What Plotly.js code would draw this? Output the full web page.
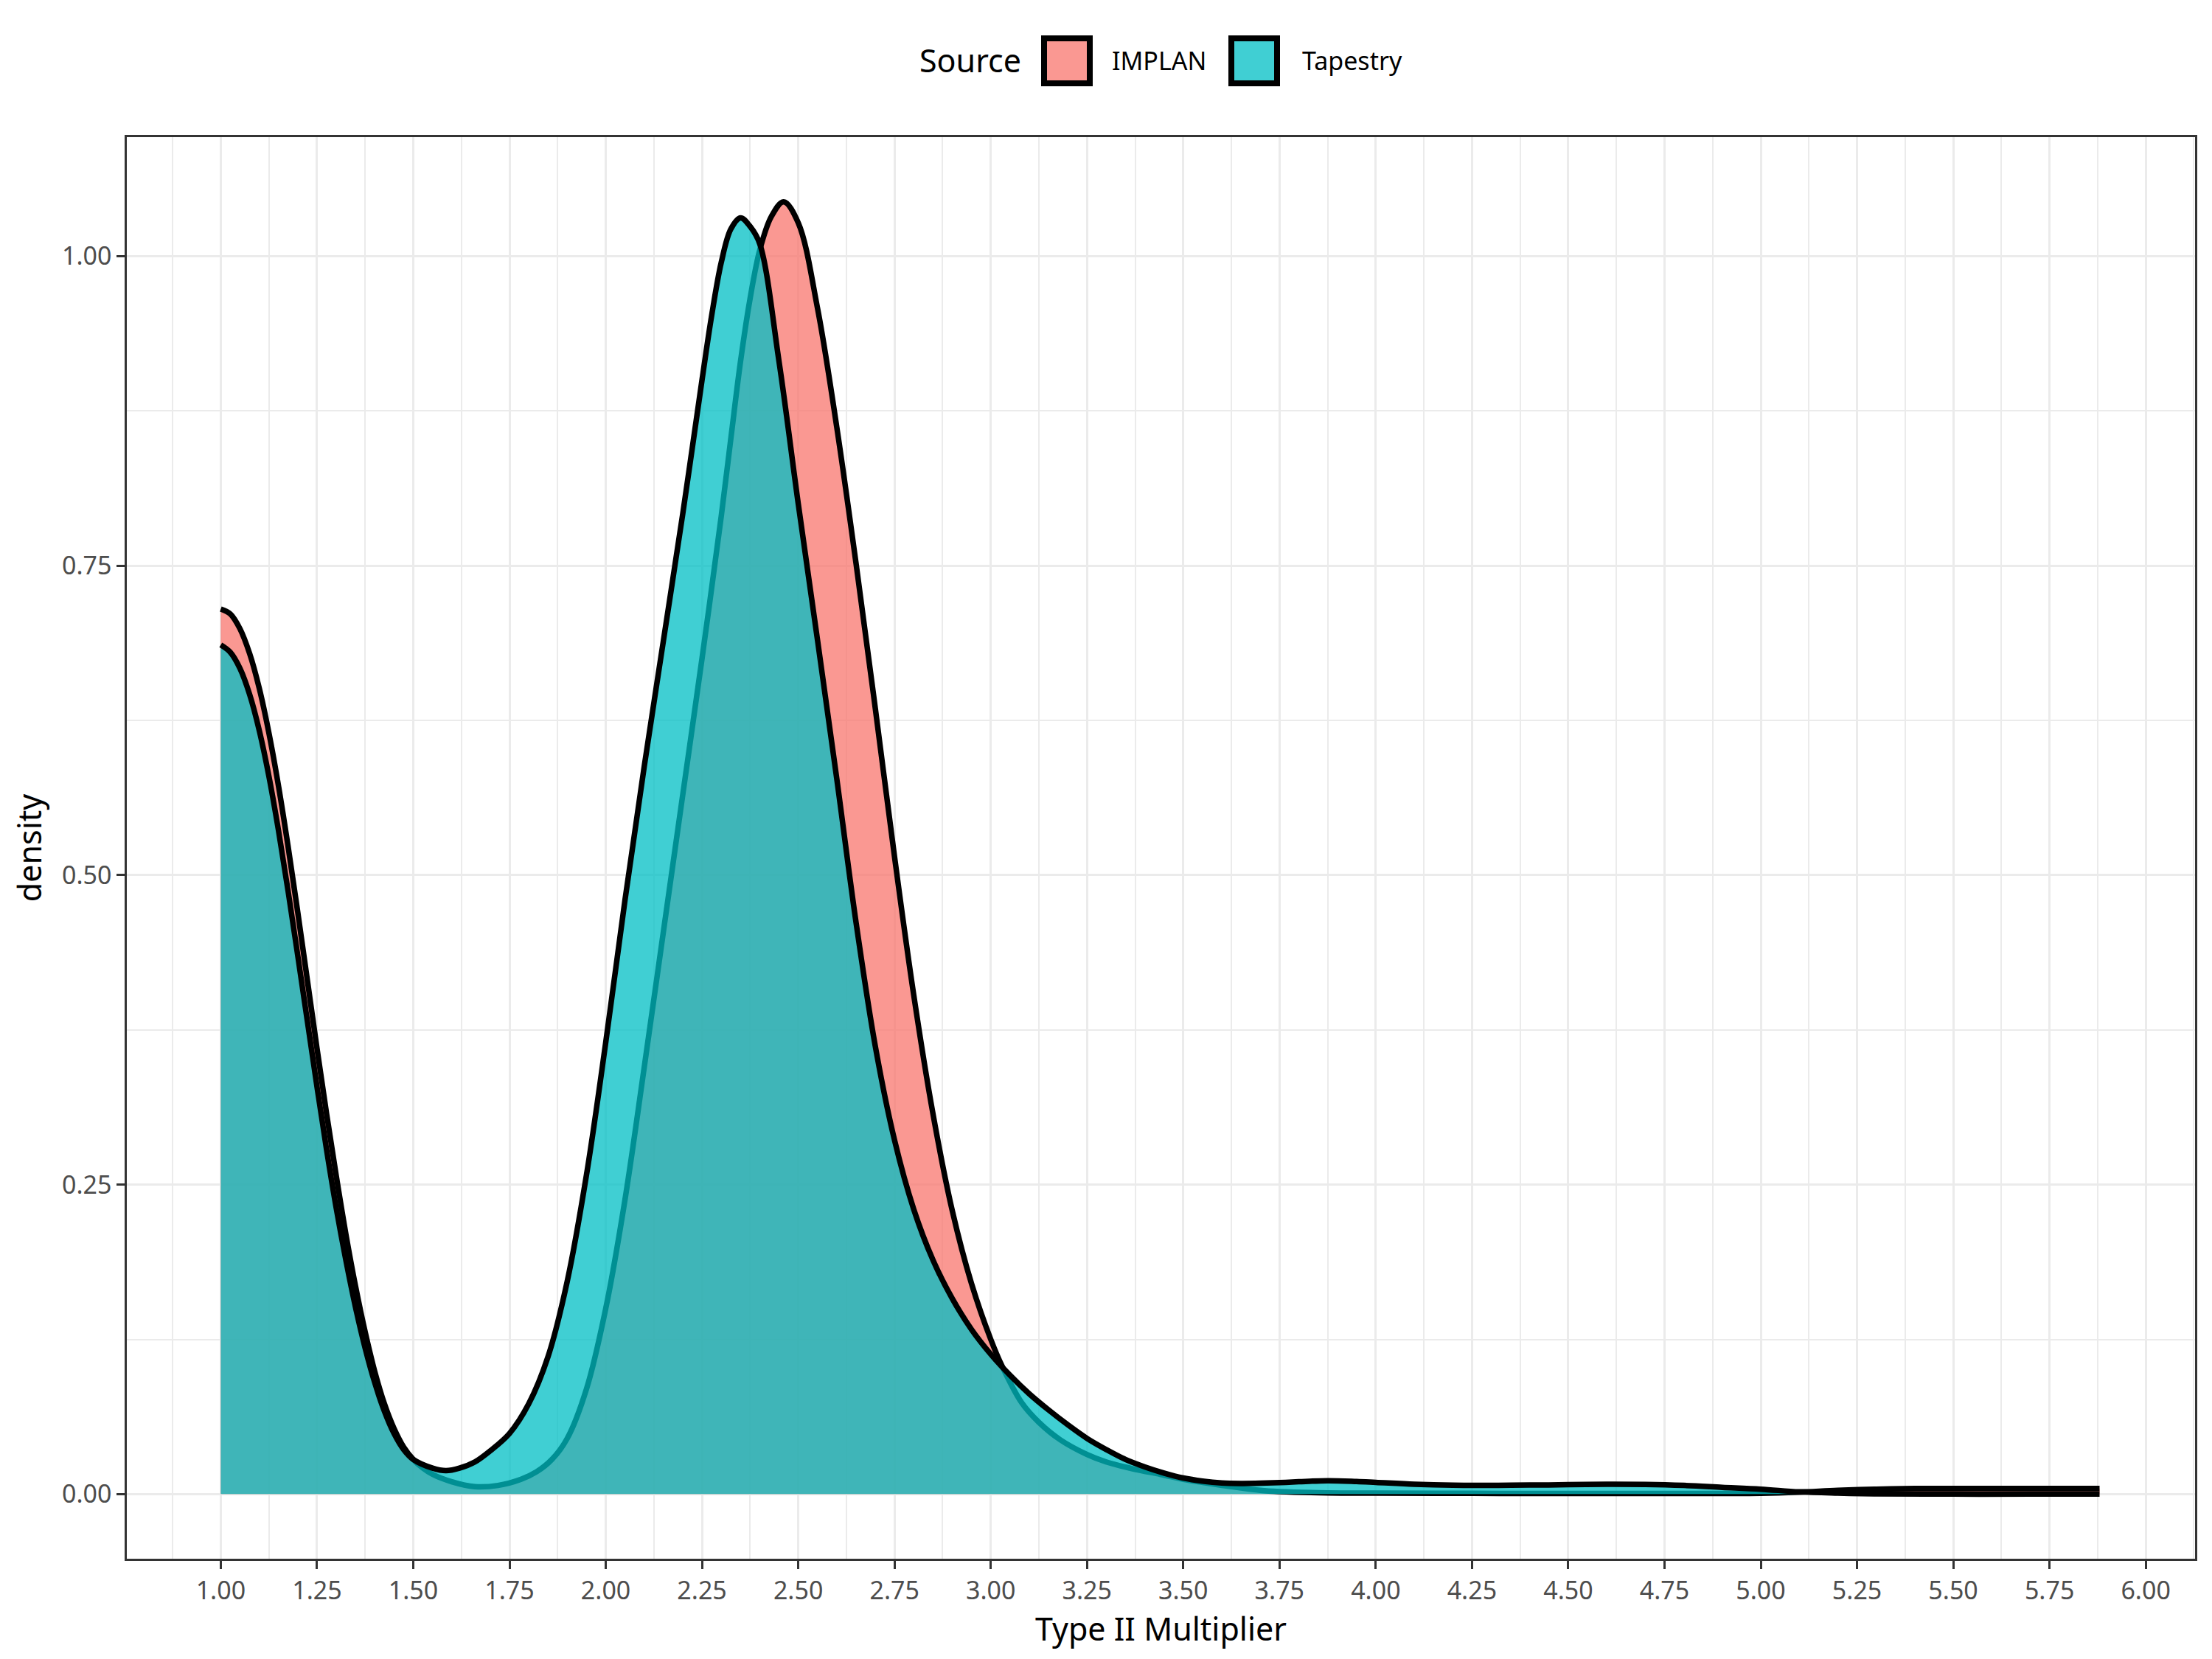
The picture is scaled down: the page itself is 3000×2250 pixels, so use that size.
<!DOCTYPE html>
<html>
<head>
<meta charset="utf-8">
<script src="https://cdn.plot.ly/plotly-3.0.1.min.js"></script>
<style>
  html, body { margin: 0; padding: 0; background: #ffffff; }
  #chart { width: 3000px; height: 2250px; }
</style>
</head>
<body>
<div id="chart"></div>
<script>
// density curves
const sources = ['IMPLAN', 'Tapestry'];
const fillColors = ['rgba(248,118,109,0.75)', 'rgba(0,191,196,0.75)'];

const implanX = [1.00, 1.025, 1.05, 1.075, 1.10, 1.125, 1.15, 1.175, 1.20, 1.225, 1.25, 1.275, 1.30, 1.325, 1.35, 1.375, 1.40, 1.425, 1.45, 1.475, 1.50,
    1.525, 1.55, 1.60, 1.66, 1.72, 1.78, 1.82, 1.86, 1.90, 1.95,
    2.00, 2.05, 2.10, 2.15, 2.20, 2.25, 2.30,
    2.325, 2.35, 2.375, 2.40, 2.43, 2.462,
    2.50, 2.55, 2.60, 2.65, 2.70, 2.75, 2.80, 2.85, 2.90, 2.95, 3.00,
    3.03, 3.08, 3.125, 3.18, 3.25, 3.30, 3.375, 3.44, 3.50, 3.56, 3.625, 3.70, 3.75, 3.875,
    4.00, 4.25, 4.50, 4.75, 5.00, 5.10, 5.20, 5.30, 5.40, 5.50, 5.75, 5.88];
const implanY = [0.715, 0.711, 0.699, 0.679, 0.651, 0.615, 0.572, 0.523, 0.470, 0.415, 0.360, 0.307, 0.257, 0.210, 0.168, 0.131, 0.099, 0.073, 0.053, 0.038, 0.028,
    0.021, 0.016, 0.010, 0.006, 0.007, 0.012, 0.018, 0.028, 0.045, 0.085,
    0.150, 0.238, 0.345, 0.455, 0.565, 0.675, 0.790,
    0.853, 0.915, 0.966, 1.005, 1.032, 1.044,
    1.027, 0.958, 0.862, 0.752, 0.635, 0.515, 0.403, 0.307, 0.229, 0.170, 0.125,
    0.103, 0.074, 0.058, 0.044, 0.032, 0.026, 0.020, 0.016, 0.012, 0.009, 0.006, 0.003, 0.002, 0.001,
    0.0008, 0.0006, 0.0005, 0.0005, 0.0006, 0.0015, 0.003, 0.004, 0.0045, 0.0045, 0.0045, 0.0045];

const tapestryX = [1.00, 1.025, 1.05, 1.075, 1.10, 1.125, 1.15, 1.175, 1.20, 1.225, 1.25, 1.275, 1.30, 1.325, 1.35, 1.375, 1.40, 1.425, 1.45, 1.475, 1.50,
    1.55, 1.585, 1.62, 1.66, 1.70, 1.75, 1.80, 1.85, 1.90, 1.95,
    2.00, 2.05, 2.10, 2.15, 2.20, 2.25, 2.275, 2.30,
    2.325, 2.35, 2.375, 2.40,
    2.45, 2.50, 2.55, 2.60, 2.65, 2.70, 2.75, 2.80, 2.85, 2.90, 2.95, 3.00, 3.05, 3.10,
    3.15, 3.20, 3.25, 3.30, 3.35, 3.40, 3.45, 3.50, 3.55, 3.60, 3.65, 3.70, 3.75, 3.80,
    3.875, 3.95, 4.00,
    4.10, 4.20, 4.30, 4.40, 4.50, 4.60, 4.70, 4.80, 4.90, 5.00, 5.10, 5.20, 5.30,
    5.50, 5.70, 5.88];
const tapestryY = [0.686, 0.680, 0.667, 0.646, 0.617, 0.580, 0.536, 0.487, 0.435, 0.382, 0.329, 0.278, 0.231, 0.189, 0.151, 0.118, 0.090, 0.067, 0.049, 0.036, 0.028,
    0.021, 0.019, 0.021, 0.026, 0.035, 0.049, 0.073, 0.111, 0.172, 0.258,
    0.365, 0.480, 0.588, 0.690, 0.792, 0.900, 0.952, 0.995,
    1.022, 1.031, 1.024, 1.010,
    0.915, 0.800, 0.690, 0.578, 0.462, 0.362, 0.286, 0.230, 0.189, 0.158, 0.133, 0.113, 0.096, 0.081,
    0.068, 0.056, 0.045, 0.036, 0.028, 0.022, 0.017, 0.013, 0.0105, 0.009, 0.0086, 0.0088, 0.0093, 0.010,
    0.0108, 0.0102, 0.0095,
    0.008, 0.0072, 0.0071, 0.0073, 0.0076, 0.008, 0.0078, 0.007, 0.0055, 0.004, 0.0018, 0.0008, 0.0002,
    0.0, 0.0, 0.0];

const W = 3000, H = 2250;
const margin = {l: 172, r: 23, t: 186, b: 136};
const plotW = W - margin.l - margin.r;
const plotH = H - margin.t - margin.b;

// pixel position on the page -> paper coordinates
function px(x) { return (x - margin.l) / plotW; }
function py(y) { return (H - margin.b - y) / plotH; }

const gridColor = '#EBEBEB';
const darkLine = '#333333';
const font = 'Noto Sans, Open Sans, DejaVu Sans, sans-serif';

function densityTrace(x, y, i) {
    return {
        x: x,
        y: y,
        name: sources[i],
        type: 'scatter',
        mode: 'lines',
        fill: 'tozeroy',
        fillcolor: fillColors[i],
        line: {color: '#000000', width: 7.5, shape: 'spline', smoothing: 1},
        hoverinfo: 'skip',
        showlegend: false
    };
}

const traces = [
    densityTrace(implanX, implanY, 0),
    densityTrace(tapestryX, tapestryY, 1)
];

// ggplot-style legend on top: boxed keys drawn as shapes
const keyBoxes = [[1416, 1478], [1670, 1732]];
const labelLeft = [1506, 1764];
const shapes = [];
const annotations = [{
    text: 'Source', xref: 'paper', yref: 'paper',
    x: px(1387), y: py(82), xanchor: 'right', yanchor: 'middle',
    showarrow: false, font: {family: font, size: 43, color: '#000000'}
}];
sources.forEach((s, i) => {
    shapes.push({
        type: 'rect', xref: 'paper', yref: 'paper',
        x0: px(keyBoxes[i][0]), x1: px(keyBoxes[i][1]),
        y0: py(113), y1: py(52),
        fillcolor: fillColors[i],
        line: {color: '#000000', width: 8}
    });
    annotations.push({
        text: s, xref: 'paper', yref: 'paper',
        x: px(labelLeft[i]), y: py(82), xanchor: 'left', yanchor: 'middle',
        showarrow: false, font: {family: font, size: 34, color: '#000000'}
    });
});

const layout = {
    width: W,
    height: H,
    margin: margin,
    paper_bgcolor: '#ffffff',
    plot_bgcolor: '#ffffff',
    font: {family: font, color: '#4D4D4D', size: 34},
    showlegend: false,
    xaxis: {
        range: [0.756, 6.128],
        tick0: 1, dtick: 0.25, tickformat: '.2f',
        ticks: 'outside', ticklen: 11, tickwidth: 2.5, tickcolor: darkLine,
        tickfont: {family: font, size: 34, color: '#4D4D4D'},
        showgrid: true, gridcolor: gridColor, gridwidth: 3,
        minor: {dtick: 0.125, tick0: 1, showgrid: true, gridcolor: gridColor, gridwidth: 1.6},
        zeroline: false,
        showline: true, mirror: true, linecolor: darkLine, linewidth: 2.5,
        automargin: false,
        title: {text: 'Type II Multiplier', standoff: 12,
            font: {family: font, size: 43, color: '#000000'}}
    },
    yaxis: {
        range: [-0.0522, 1.0962],
        tick0: 0, dtick: 0.25, tickformat: '.2f',
        ticks: 'outside', ticklen: 11, tickwidth: 2.5, tickcolor: darkLine,
        tickfont: {family: font, size: 34, color: '#4D4D4D'},
        showgrid: true, gridcolor: gridColor, gridwidth: 3,
        minor: {dtick: 0.125, tick0: 0, showgrid: true, gridcolor: gridColor, gridwidth: 1.6},
        zeroline: false,
        showline: true, mirror: true, linecolor: darkLine, linewidth: 2.5,
        automargin: false,
        title: {text: 'density', standoff: 14,
            font: {family: font, size: 43, color: '#000000'}}
    },
    shapes: shapes,
    annotations: annotations
};

Plotly.newPlot('chart', traces, layout, {displayModeBar: false, responsive: false});
</script>
</body>
</html>
